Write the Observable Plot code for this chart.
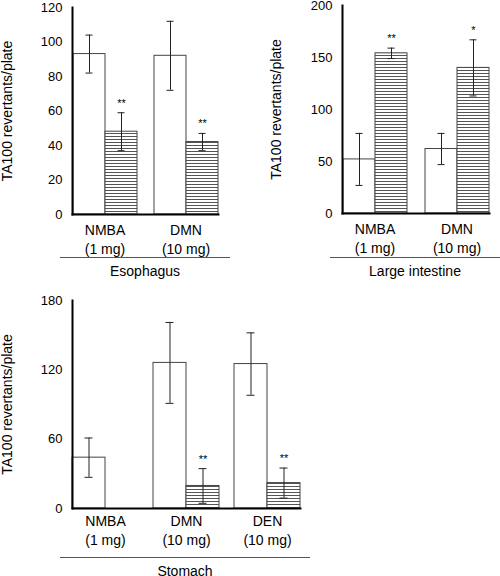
<!DOCTYPE html>
<html>
<head>
<meta charset="utf-8">
<script src="https://cdn.jsdelivr.net/npm/d3@7"></script>
<script src="https://cdn.jsdelivr.net/npm/@observablehq/plot@0.6"></script>
<style>
  html, body { margin: 0; padding: 0; background: #fff; overflow: hidden; }
  #root { position: relative; width: 500px; height: 576px; font-family: "Liberation Sans", Arial, Helvetica, sans-serif; }
  .panel { position: absolute; }
  .caption { position: absolute; border-top: 1px solid #555; text-align: center; font-size: 14px; line-height: 17px; padding-top: 5px; color: #000; }
</style>
</head>
<body>
<div id="root"></div>
<script>
// ---- Data ----
const yLabel = "TA100 revertants/plate";
const groups = ["control", "treated"];

// Esophagus
const esoCats = ["NMBA", "DMN"];
const esoDoses = ["(1 mg)", "(10 mg)"];
const esoCtrl = [93, 92];
const esoCtrlErr = [11, 20];
const esoTrt = [48, 42];
const esoTrtErr = [11, 5];
const esoSig = ["**", "**"];
const esoTicks = [0, 20, 40, 60, 80, 100, 120];

// Large intestine
const liCats = ["NMBA", "DMN"];
const liDoses = ["(1 mg)", "(10 mg)"];
const liCtrl = [52, 62];
const liCtrlErr = [25, 15];
const liTrt = [154, 140];
const liTrtErr = [5, 27];
const liSig = ["**", "*"];
const liTicks = [0, 50, 100, 150, 200];

// Stomach
const stCats = ["NMBA", "DMN", "DEN"];
const stDoses = ["(1 mg)", "(10 mg)", "(10 mg)"];
const stCtrl = [44, 126, 125];
const stCtrlErr = [17, 35, 27];
const stTrt = [null, 19.5, 22];
const stTrtErr = [null, 15, 13];
const stSig = ["", "**", "**"];
const stTicks = [0, 60, 120, 180];

// ---- hatch pattern (shared) ----
const root = document.getElementById("root");
const defsSvg = d3.create("svg").attr("width", 0).attr("height", 0).style("position", "absolute");
const pat = defsSvg.append("defs").append("pattern")
  .attr("id", "hatch").attr("patternUnits", "userSpaceOnUse")
  .attr("width", 6).attr("height", 3);
pat.append("rect").attr("width", 6).attr("height", 3).attr("fill", "#fff");
pat.append("rect").attr("y", 1).attr("width", 6).attr("height", 1).attr("fill", "#555");
root.appendChild(defsSvg.node());

const font = '"Liberation Sans", Arial, Helvetica, sans-serif';

function buildRows(cats, ctrl, ctrlErr, trt, trtErr, sig) {
  const rows = [];
  cats.forEach((c, i) => {
    rows.push({cat: c, group: groups[0], value: ctrl[i], err: ctrlErr[i], sig: ""});
    if (trt[i] != null) rows.push({cat: c, group: groups[1], value: trt[i], err: trtErr[i], sig: sig[i]});
  });
  return rows;
}

function panel(cfg) {
  const rows = buildRows(cfg.cats, cfg.ctrl, cfg.ctrlErr, cfg.trt, cfg.trtErr, cfg.sig);
  const doseOf = new Map(cfg.cats.map((c, i) => [c, cfg.doses[i]]));
  const p = Plot.plot({
    width: cfg.width, height: cfg.height,
    marginLeft: cfg.ml, marginRight: cfg.mr, marginTop: cfg.mt, marginBottom: cfg.mb,
    style: {fontFamily: font, fontSize: "13px", color: "#000", background: "transparent", overflow: "visible"},
    fx: {domain: cfg.cats, paddingInner: cfg.pi, paddingOuter: cfg.po, label: null},
    x: {domain: groups, padding: 0, axis: null},
    y: {domain: [0, cfg.ticks[cfg.ticks.length - 1]], axis: null},
    marks: [
      Plot.barY(rows, {filter: d => d.group === "control", fx: "cat", x: "group", y: "value", fill: "white", stroke: "#444", strokeWidth: 1}),
      Plot.barY(rows, {filter: d => d.group === "treated", fx: "cat", x: "group", y: "value", fill: "url(#hatch)", stroke: "#444", strokeWidth: 1}),
      Plot.ruleX(rows, {fx: "cat", x: "group", y1: d => d.value - d.err, y2: d => d.value + d.err, stroke: "#222", strokeWidth: 1}),
      Plot.tickY(rows, {fx: "cat", x: "group", y: d => d.value + d.err, stroke: "#222", strokeWidth: 1, insetLeft: 12.5, insetRight: 12.5}),
      Plot.tickY(rows, {fx: "cat", x: "group", y: d => d.value - d.err, stroke: "#222", strokeWidth: 1, insetLeft: 12.5, insetRight: 12.5}),
      Plot.text(rows.filter(d => d.sig), {fx: "cat", x: "group", y: d => d.value + d.err, text: "sig", lineAnchor: "bottom", dy: -6, fontSize: 11, fill: "#000"}),
      Plot.axisY({ticks: cfg.ticks, tickSize: 0, tickPadding: 10, label: null, fontSize: 13}),
      Plot.text([yLabel], {frameAnchor: "left", textAnchor: "middle", rotate: -90, dx: -cfg.labelOff, fontSize: 14, facet: "super", fill: "#000"}),
      Plot.axisFx({anchor: "bottom", tickSize: 0, tickPadding: cfg.fxPad, label: null, fontSize: 14, lineHeight: 1.3, tickFormat: c => c + "\n" + doseOf.get(c)}),
      Plot.frame({anchor: "left", facet: "super", stroke: "#000", strokeWidth: 2}),
      Plot.frame({anchor: "bottom", facet: "super", stroke: "#000", strokeWidth: 2})
    ]
  });
  const div = document.createElement("div");
  div.className = "panel";
  div.style.left = cfg.left + "px";
  div.style.top = cfg.top + "px";
  div.appendChild(p);
  root.appendChild(div);
  const cap = document.createElement("div");
  cap.className = "caption";
  cap.style.left = cfg.capLeft + "px";
  cap.style.width = cfg.capWidth + "px";
  cap.style.top = (cfg.top + cfg.height) + "px";
  cap.textContent = cfg.caption;
  root.appendChild(cap);
}

panel({left: 0, top: 0, width: 250, height: 257, ml: 62, mr: 22, mt: 7, mb: 43, pi: 0.2, po: 0.123, fxPad: 8,
  cats: esoCats, doses: esoDoses, ctrl: esoCtrl, ctrlErr: esoCtrlErr, trt: esoTrt, trtErr: esoTrtErr, sig: esoSig,
  ticks: esoTicks, labelOff: 65, caption: "Esophagus", capLeft: 60, capWidth: 170});

panel({left: 250, top: 0, width: 250, height: 257, ml: 82, mr: 0, mt: 5, mb: 44, pi: 0.205, po: 0.12, fxPad: 8,
  cats: liCats, doses: liDoses, ctrl: liCtrl, ctrlErr: liCtrlErr, trt: liTrt, trtErr: liTrtErr, sig: liSig,
  ticks: liTicks, labelOff: 66, caption: "Large intestine", capLeft: 330, capWidth: 170});

panel({left: 0, top: 290, width: 330, height: 267, ml: 62, mr: 20, mt: 10, mb: 49, pi: 0.19, po: 0.11, fxPad: 5,
  cats: stCats, doses: stDoses, ctrl: stCtrl, ctrlErr: stCtrlErr, trt: stTrt, trtErr: stTrtErr, sig: stSig,
  ticks: stTicks, labelOff: 65, caption: "Stomach", capLeft: 60, capWidth: 250});
</script>
</body>
</html>
